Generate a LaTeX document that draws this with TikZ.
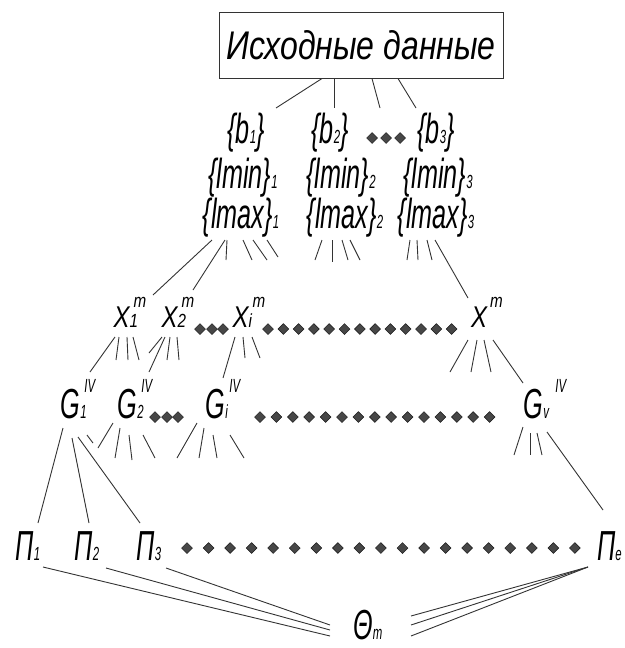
\documentclass[tikz,border=0pt]{standalone}
\usepackage{fontspec}
\setmainfont{Liberation Sans}
\newfontfamily\gost{Liberation Sans}[FakeStretch=0.6]
\newfontfamily\gostx{Liberation Sans}[FakeStretch=0.8]
\usetikzlibrary{shapes.geometric,calc}
\newcommand{\smallfnt}{\fontsize{19}{19}\selectfont}
\newcommand{\lowtxt}[1]{{\smallfnt #1}}
\newcommand{\lowhigh}[3][20pt]{\rlap{\lowtxt{#2}}\kern4pt\raisebox{#1}{\lowtxt{#3}}}

\begin{document}
\begin{tikzpicture}[x=1pt, y=-1pt,
    txt/.style={font=\gost\itshape\fontsize{42}{44}\selectfont, inner sep=0pt, anchor=base},
    xtxt/.style={font=\gostx\itshape\fontsize{30}{32}\selectfont, inner sep=0pt, anchor=base},
    rhomb/.style={diamond, draw=black!90, fill=black!72, line width=0.5pt,
                  inner sep=0pt, minimum width=11pt, minimum height=11pt},
    link/.style={draw=black!80, line width=0.9pt},
  ]
  \useasboundingbox (0,0) rectangle (624,648);
  % source box
  \node[draw=black!80, line width=1pt, minimum width=284pt, minimum height=66pt,
        inner sep=0pt, font=\gostx\itshape\fontsize{40}{42}\selectfont] (src) at (361,45)
    {Исходные данные};
  % b, lmin, lmax rows
  \node[txt] (b1) at (246,143) {\{b\lowtxt{1}\}};
  \node[txt] (b2) at (330,143) {\{b\lowtxt{2}\}};
  \node[txt] (b3) at (436,143) {\{b\lowtxt{3}\}};
  \foreach \k/\x in {1/372,2/386,3/400}
    \node[rhomb] (bd\k) at (\x,138) {};
  \node[txt] (lmin1) at (243,188) {\{lmin\}\lowtxt{1}};
  \node[txt] (lmin2) at (341,188) {\{lmin\}\lowtxt{2}};
  \node[txt] (lmin3) at (438,188) {\{lmin\}\lowtxt{3}};
  \node[txt] (lmax1) at (241,228) {\{lmax\}\lowtxt{1}};
  \node[txt] (lmax2) at (345,228) {\{lmax\}\lowtxt{2}};
  \node[txt] (lmax3) at (436,228) {\{lmax\}\lowtxt{3}};
  % X row
  \node[xtxt] (X1) at (130,327) {X\lowhigh{1}{m}};
  \node[xtxt] (X2) at (178,327) {X\lowhigh{2}{m}};
  \node[xtxt] (Xi) at (249,327) {X\lowhigh{i}{m}};
  \node[xtxt] (Xm) at (487,327) {X\kern3pt\raisebox{20pt}{\lowtxt{m}}};
  \foreach \k/\x in {1/200,2/212,3/223}
    \node[rhomb] (xa\k) at (\x,329) {};
  \foreach \k in {0,...,12}
    \node[rhomb] (xb\k) at (268+15.3*\k,329) {};
  % G row
  \node[txt] (G1) at (78,418) {G\lowhigh[26pt]{1}{IV}};
  \node[txt] (G2) at (135,418) {G\lowhigh[26pt]{2}{IV}};
  \node[txt] (Gi) at (223,418) {G\lowhigh[26pt]{i}{IV}};
  \node[txt] (Gv) at (545,418) {G\lowhigh[26pt]{v}{\kern8pt IV}};
  \foreach \k/\x in {1/155,2/167,3/178}
    \node[rhomb] (ga\k) at (\x,417) {};
  \foreach \k in {0,...,14}
    \node[rhomb] (gb\k) at (260+16.4*\k,417) {};
  % P row
  \node[txt] (P1) at (28,560) {П\lowtxt{1}};
  \node[txt] (P2) at (87,560) {П\lowtxt{2}};
  \node[txt] (P3) at (149,560) {П\lowtxt{3}};
  \node[txt, anchor=base west] (Pe) at (597,560) {П\lowtxt{e}};
  \foreach \k in {0,...,18}
    \node[rhomb] (pd\k) at (187+21.55*\k,548) {};
  % result
  \node[txt, anchor=base west] (Th) at (353,639) {Θ\lowtxt{m}};

  % source to b row
  \draw[link] ($(src.south)+(-39,0)$) -- ($(b1.base)+(30,-35)$);
  \draw[link] ($(src.south)+(-27,0)$) -- ($(b2.base)+(4,-35)$);
  \draw[link] ($(src.south)+(11,0)$) -- ($(bd2)+(-6,-30)$);
  \draw[link] ($(src.south)+(37,0)$) -- ($(b3.base)+(-20,-35)$);
  % lmax to X
  \draw[link] ($(lmax1.base)+(-29,12)$) -- ($(X1.base)+(23,-32)$);
  \draw[link] ($(lmax1.base)+(-16,12)$) -- ($(X2.base)+(15,-37)$);
  \draw[link] ($(lmax3.base)+(-1,12)$) -- ($(Xm.base)+(-19,-29)$);
  \foreach \a/\b/\c/\d in {-14/12/-1/20, 2/12/9/20, 12/12/14/20, 26/12/11/17}
    \draw[link] ($(lmax1.base)+(\a,\b)$) -- ++(\c,\d);
  \foreach \a/\b/\c/\d in {-23/12/-7/20, -13/12/0/22, -3/12/6/20, 5/12/10/20}
    \draw[link] ($(lmax2.base)+(\a,\b)$) -- ++(\c,\d);
  \foreach \a/\b/\c/\d in {-26/12/-3/20, -19/12/1/20, -9/12/5/20}
    \draw[link] ($(lmax3.base)+(\a,\b)$) -- ++(\c,\d);
  % X to G
  \draw[link] ($(X1.base)+(-15,10)$) -- ($(G1.base)+(12,-46)$);
  \draw[link] ($(X2.base)+(-13,10)$) -- ($(G2.base)+(14,-46)$);
  \draw[link] ($(Xi.base)+(-14,10)$) -- ($(Gi.base)+(0,-40)$);
  \draw[link] ($(Xm.base)+(6,13)$) -- ($(Gv.base)+(-22,-35)$);
  \foreach \a/\b/\c/\d in {-11/10/-3/23, -3/10/1/23, 3/10/6/23}
    \draw[link] ($(X1.base)+(\a,\b)$) -- ++(\c,\d);
  \foreach \a/\b/\c/\d in {-16/10/-13/16, -8/10/-3/23, -1/10/2/23}
    \draw[link] ($(X2.base)+(\a,\b)$) -- ++(\c,\d);
  \foreach \a/\b/\c/\d in {-6/10/2/21, 3/10/8/21}
    \draw[link] ($(Xi.base)+(\a,\b)$) -- ++(\c,\d);
  \foreach \a/\b/\c/\d in {-19/13/-18/32, -10/13/-6/32, -3/13/7/32}
    \draw[link] ($(Xm.base)+(\a,\b)$) -- ++(\c,\d);
  % G to P
  \draw[link] ($(G1.base)+(-15,10)$) -- ($(P1.base)+(10,-37)$);
  \draw[link] ($(G1.base)+(-6,20)$) -- ($(P2.base)+(2,-37)$);
  \draw[link] ($(G1.base)+(0,19)$) -- ($(P3.base)+(-9,-37)$);
  \draw[link] ($(Gv.base)+(2,14)$) -- ($(Pe.base west)+(6,-50)$);
  \draw[link] ($(G1.base)+(9,17)$) -- ++(6,8);
  \foreach \a/\b/\c/\d in {-22/5/-15/25, -15/10/-5/30, -6/17/3/25, 8/17/12/23}
    \draw[link] ($(G2.base)+(\a,\b)$) -- ++(\c,\d);
  \foreach \a/\b/\c/\d in {-26/5/-20/35, -19/10/-5/30, -10/17/4/23, 7/17/14/23}
    \draw[link] ($(Gi.base)+(\a,\b)$) -- ++(\c,\d);
  \foreach \a/\b/\c/\d in {-22/9/-9/28, -15/15/0/22, -8/15/5/22}
    \draw[link] ($(Gv.base)+(\a,\b)$) -- ++(\c,\d);
  % P to result
  \draw[link] ($(P1.base)+(15,7)$) -- ($(Th.base west)+(-23,-3)$);
  \draw[link] ($(P2.base)+(19,8)$) -- ($(Th.base west)+(-23,-9)$);
  \draw[link] ($(P3.base)+(17,8)$) -- ($(Th.base west)+(-23,-14)$);
  \foreach \d in {-23,-14,-3}
    \draw[link] ($(Th.base west)+(58,\d)$) -- ($(Pe.base west)+(-9,7)$);
\end{tikzpicture}
\end{document}
